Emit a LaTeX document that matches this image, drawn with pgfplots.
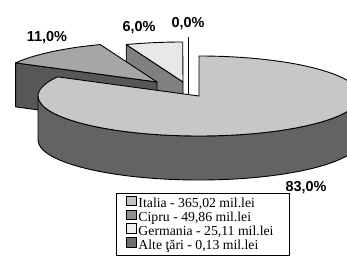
\documentclass[border=0pt]{standalone}
\usepackage{pgfplots}
\pgfplotsset{compat=1.18}
\usepackage{pgfplotstable}
\usepackage{fontspec}
\setmainfont{Liberation Serif}
\newfontfamily\labfont{Liberation Sans}

\pgfplotstableread{
name value
Italia 365.02
Cipru 49.86
Germania 25.11
Alte 0.13
}\datatable

\definecolor{itTop}{gray}{0.78}
\definecolor{itSide}{gray}{0.39}
\definecolor{ciTop}{gray}{0.65}
\definecolor{ciSide}{gray}{0.34}
\definecolor{geTop}{gray}{0.91}
\definecolor{geSide}{gray}{0.50}
\definecolor{lgIt}{gray}{0.76}
\definecolor{lgCi}{gray}{0.56}
\definecolor{lgGe}{gray}{0.94}
\definecolor{lgAl}{gray}{0.43}

\begin{document}
\begin{tikzpicture}
\pgfplotstablegetelem{0}{value}\of\datatable \let\vA\pgfplotsretval
\pgfplotstablegetelem{1}{value}\of\datatable \let\vB\pgfplotsretval
\pgfplotstablegetelem{2}{value}\of\datatable \let\vC\pgfplotsretval
\pgfplotstablegetelem{3}{value}\of\datatable \let\vD\pgfplotsretval
\pgfmathsetmacro\tot{\vA+\vB+\vC+\vD}
\pgfmathsetmacro\tA{360*(\vA/\tot)}
\pgfmathsetmacro\tB{\tA+360*(\vB/\tot)}
\pgfmathsetmacro\tC{\tB+360*(\vC/\tot)}
\pgfmathsetmacro\pA{90-\tA}
\pgfmathsetmacro\pB{90-\tB}
\pgfmathsetmacro\pC{90-\tC}
\useasboundingbox (0,0) rectangle (347bp,258bp);
\begin{axis}[at={(0,0)}, anchor=origin,
  width=347bp, height=258bp, scale only axis,
  xmin=0, xmax=347, ymin=0, ymax=258,
  hide axis, clip=true,
  legend style={at={(116/347,2/258)}, anchor=south west, draw=black, line width=0.8pt,
    font=\fontsize{13.8}{13.8}\selectfont, inner xsep=10bp, inner ysep=2.5bp, row sep=-2.2bp,
    nodes={inner xsep=2bp, inner ysep=0pt, text height=10.5bp, text depth=3.9bp}},
  legend image code/.code={\draw[#1] (0bp,-1bp) rectangle (9.5bp,8.5bp);},
  legend cell align=left]
\addlegendimage{draw=black, line width=0.6pt, fill=lgIt}
\addlegendentry{Italia - 365,02 mil.lei}
\addlegendimage{draw=black, line width=0.6pt, fill=lgCi}
\addlegendentry{Cipru - 49,86 mil.lei}
\addlegendimage{draw=black, line width=0.6pt, fill=lgGe}
\addlegendentry{Germania - 25,11 mil.lei\hspace*{4bp}}
\addlegendimage{draw=black, line width=0.6pt, fill=lgAl}
\addlegendentry{Alte ţări - 0,13 mil.lei}

% Alte tari (0 %) : a single edge
\draw[line width=0.9pt] (axis cs:188,221) -- (axis cs:188,136);

% Germania
\filldraw[fill=geSide, line width=0.9pt, line join=round]
  (axis cs:{183+161*sin(\tB)},{176+40*cos(\tB)}) -- (axis cs:183,176) -- (axis cs:183,132)
  -- (axis cs:{183+161*sin(\tB)},{132+40*cos(\tB)}) -- cycle;
\filldraw[fill=geTop, line width=0.9pt, line join=round]
  (axis cs:183,176) -- (axis cs:{183+161*sin(\tB)},{176+40*cos(\tB)})
  arc[start angle=\pB, end angle=\pC, x radius=161bp, y radius=40bp] -- cycle;

% Cipru
\filldraw[fill=ciSide, line width=0.9pt, line join=round]
  (axis cs:{157+161*sin(\tA)},{176+40*cos(\tA)}) -- (axis cs:157,176) -- (axis cs:157,132)
  -- (axis cs:{157+161*sin(\tA)},{132+40*cos(\tA)}) -- cycle;
\filldraw[fill=ciTop, line width=0.9pt, line join=round]
  (axis cs:157,176) -- (axis cs:{157+161*sin(\tA)},{176+40*cos(\tA)})
  arc[start angle=\pA, end angle=\pB, x radius=161bp, y radius=40bp] -- cycle;

% Italia
\filldraw[fill=itSide, line width=0.9pt, line join=round]
  (axis cs:360,162) arc[start angle=0, end angle=-180, x radius=161bp, y radius=40bp]
  -- ++(0,-44bp) arc[start angle=-180, end angle=0, x radius=161bp, y radius=40bp] -- cycle;
\filldraw[fill=itTop, line width=0.9pt, line join=round]
  (axis cs:199,162) -- (axis cs:199,202)
  arc[start angle=90, end angle=\pA, x radius=161bp, y radius=40bp] -- cycle;

% labels
\node[font=\labfont\bfseries\fontsize{14.5}{16}\selectfont] at (axis cs:47,220) {11,0\%};
\node[font=\labfont\bfseries\fontsize{14.5}{16}\selectfont] at (axis cs:139,230) {6,0\%};
\node[font=\labfont\bfseries\fontsize{14.5}{16}\selectfont] at (axis cs:188,234) {0,0\%};
\node[font=\labfont\bfseries\fontsize{14.5}{16}\selectfont] at (axis cs:306,70) {83,0\%};
\end{axis}
\end{tikzpicture}
\end{document}
